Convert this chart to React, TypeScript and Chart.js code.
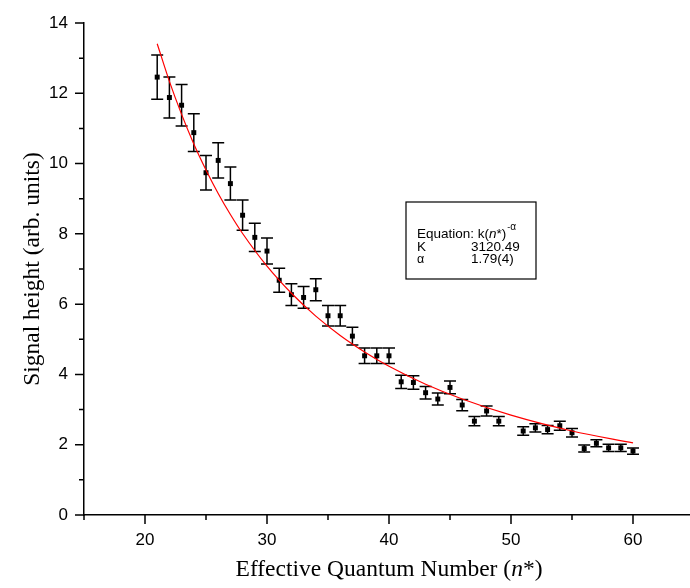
import React, { useEffect, useRef } from 'react';
import { Chart, registerables } from 'chart.js';

Chart.register(...registerables);

// ---- data ----
const nValues = [21, 22, 23, 24, 25, 26, 27, 28, 29, 30, 31, 32, 33, 34, 35, 36, 37, 38, 39, 40,
  41, 42, 43, 44, 45, 46, 47, 48, 49, 51, 52, 53, 54, 55, 56, 57, 58, 59, 60];
const signal = [12.46, 11.88, 11.66, 10.88, 9.74, 10.09, 9.43, 8.53, 7.90, 7.51, 6.68, 6.27, 6.19, 6.41,
  5.67, 5.67, 5.09, 4.53, 4.53, 4.53, 3.79, 3.77, 3.48, 3.30, 3.63, 3.13, 2.67, 2.96, 2.67,
  2.39, 2.48, 2.43, 2.54, 2.34, 1.89, 2.04, 1.91, 1.91, 1.82];
const errors = [0.63, 0.58, 0.59, 0.54, 0.49, 0.50, 0.47, 0.43, 0.40, 0.37, 0.34, 0.31, 0.31, 0.31,
  0.29, 0.29, 0.25, 0.22, 0.22, 0.22, 0.19, 0.19, 0.18, 0.17, 0.18, 0.16, 0.13, 0.14, 0.13,
  0.12, 0.12, 0.12, 0.13, 0.12, 0.10, 0.10, 0.10, 0.10, 0.09];
// fitted curve k(n*)^-alpha sampled values
const fitN = [21, 22, 23, 24, 25, 26, 27, 28, 30, 32, 34, 36, 38, 40, 43, 46, 50, 55, 60];
const fitY = [13.41, 12.34, 11.40, 10.56, 9.82, 9.15, 8.55, 8.01, 7.08, 6.31, 5.66, 5.11, 4.64, 4.23,
  3.72, 3.30, 2.84, 2.39, 2.05];
const xMajorTicks = [20, 30, 40, 50, 60];
const xMinorTicks = [15, 25, 35, 45, 55, 65];
const yMajorTicks = [0, 2, 4, 6, 8, 10, 12, 14];
const yMinorTicks = [1, 3, 5, 7, 9, 11, 13];
const xTitle = ['Effective Quantum Number (', 'n', '*)'];
const yTitle = 'Signal height (arb. units)';
const fitLabelK = '3120.49';
const fitLabelAlpha = '1.79(4)';

const SANS = '"Liberation Sans", Arial, sans-serif';
const SERIF = '"Liberation Serif", "Times New Roman", serif';

const decorPlugin = {
  id: 'decor',
  beforeDatasetsDraw(chart: any) {
    const { ctx } = chart;
    const xs = chart.scales.x;
    const ys = chart.scales.y;
    ctx.save();
    ctx.strokeStyle = '#000';
    ctx.lineWidth = 1.5;
    const cap = 6;
    nValues.forEach((n, i) => {
      const px = xs.getPixelForValue(n);
      const top = ys.getPixelForValue(signal[i] + errors[i]);
      const bot = ys.getPixelForValue(signal[i] - errors[i]);
      ctx.beginPath();
      ctx.moveTo(px, top);
      ctx.lineTo(px, bot);
      ctx.moveTo(px - cap, top);
      ctx.lineTo(px + cap, top);
      ctx.moveTo(px - cap, bot);
      ctx.lineTo(px + cap, bot);
      ctx.stroke();
    });
    ctx.restore();
  },
  afterDraw(chart: any) {
    const { ctx, chartArea } = chart;
    const xs = chart.scales.x;
    const ys = chart.scales.y;
    ctx.save();
    ctx.strokeStyle = '#000';
    ctx.lineWidth = 1.5;
    const axY = chartArea.bottom;
    const axX = chartArea.left;
    ctx.beginPath();
    xMajorTicks.forEach((v) => {
      const p = xs.getPixelForValue(v);
      ctx.moveTo(p, axY);
      ctx.lineTo(p, axY + 9);
    });
    xMinorTicks.forEach((v) => {
      const p = xs.getPixelForValue(v);
      ctx.moveTo(p, axY);
      ctx.lineTo(p, axY + 5);
    });
    yMajorTicks.forEach((v) => {
      const p = ys.getPixelForValue(v);
      ctx.moveTo(axX, p);
      ctx.lineTo(axX - 9, p);
    });
    yMinorTicks.forEach((v) => {
      const p = ys.getPixelForValue(v);
      ctx.moveTo(axX, p);
      ctx.lineTo(axX - 5, p);
    });
    ctx.stroke();

    // axis titles
    ctx.fillStyle = '#000';
    const tSize = 23.5;
    ctx.font = `${tSize}px ${SERIF}`;
    const w0 = ctx.measureText(xTitle[0]).width;
    ctx.font = `italic ${tSize}px ${SERIF}`;
    const w1 = ctx.measureText(xTitle[1]).width;
    ctx.font = `${tSize}px ${SERIF}`;
    const w2 = ctx.measureText(xTitle[2]).width;
    const cx = (chartArea.left + chartArea.right) / 2;
    let sx = cx - (w0 + w1 + w2) / 2;
    const ty = 576;
    ctx.textBaseline = 'alphabetic';
    ctx.textAlign = 'left';
    ctx.fillText(xTitle[0], sx, ty);
    sx += w0;
    ctx.font = `italic ${tSize}px ${SERIF}`;
    ctx.fillText(xTitle[1], sx, ty);
    sx += w1;
    ctx.font = `${tSize}px ${SERIF}`;
    ctx.fillText(xTitle[2], sx, ty);

    ctx.save();
    ctx.translate(39, (chartArea.top + chartArea.bottom) / 2);
    ctx.rotate(-Math.PI / 2);
    ctx.textAlign = 'center';
    ctx.fillText(yTitle, 0, 0);
    ctx.restore();

    // fit info box
    const bx = 406, by = 202, bw = 130, bh = 77;
    ctx.lineWidth = 1.2;
    ctx.strokeRect(bx, by, bw, bh);
    const fs = 13.5;
    const lx = 417;
    const vx = 471;
    ctx.textAlign = 'left';
    ctx.font = `${fs}px ${SANS}`;
    let ex = lx;
    const l1 = 238;
    ctx.fillText('Equation: k(', ex, l1);
    ex += ctx.measureText('Equation: k(').width;
    ctx.font = `italic ${fs}px ${SANS}`;
    ctx.fillText('n', ex, l1);
    ex += ctx.measureText('n').width;
    ctx.font = `${fs}px ${SANS}`;
    ctx.fillText('*)', ex, l1);
    ex += ctx.measureText('*)').width + 1;
    ctx.font = `9px ${SANS}`;
    ctx.fillText('-', ex, l1 - 8);
    ex += ctx.measureText('-').width;
    ctx.font = `10px ${SANS}`;
    ctx.fillText('α', ex, l1 - 8);
    ctx.font = `${fs}px ${SANS}`;
    ctx.fillText('K', lx, 251);
    ctx.fillText(fitLabelK, vx, 251);
    ctx.font = `${fs - 1}px ${SANS}`;
    ctx.fillText('α', lx, 263);
    ctx.font = `${fs}px ${SANS}`;
    ctx.fillText(fitLabelAlpha, vx, 263);
    ctx.restore();
  },
};

export default function App() {
  const canvasRef = useRef<HTMLCanvasElement | null>(null);

  useEffect(() => {
    const canvas = canvasRef.current;
    if (!canvas) return;
    const chart = new Chart(canvas, {
      type: 'scatter',
      data: {
        datasets: [
          {
            type: 'line',
            label: 'fit',
            data: fitN.map((n, i) => ({ x: n, y: fitY[i] })),
            borderColor: '#ff0000',
            borderWidth: 1.2,
            pointRadius: 0,
            fill: false,
            cubicInterpolationMode: 'monotone',
          } as any,
          {
            label: 'data',
            data: nValues.map((n, i) => ({ x: n, y: signal[i] })),
            pointStyle: 'rect',
            pointRadius: 3.5,
            backgroundColor: '#000',
            borderColor: '#000',
            borderWidth: 0,
          },
        ],
      },
      options: {
        animation: false,
        responsive: false,
        devicePixelRatio: 1,
        layout: { padding: { top: 23, right: 2, left: 0, bottom: 0 } },
        plugins: {
          legend: { display: false },
          tooltip: { enabled: false },
        },
        scales: {
          x: {
            type: 'linear',
            min: 15,
            max: 65,
            afterFit: (s: any) => { s.height = 73; },
            grid: { display: false, drawTicks: true, tickLength: 9 },
            border: { display: true, color: '#000', width: 1.5 },
            ticks: {
              stepSize: 5,
              autoSkip: false,
              maxRotation: 0,
              padding: 6,
              color: '#000',
              font: { family: SANS, size: 17 },
              callback: (v: any) => (Number(v) % 10 === 0 ? String(v) : ''),
            },
          },
          y: {
            type: 'linear',
            min: 0,
            max: 14,
            afterFit: (s: any) => { s.width = 84; },
            grid: { display: false, drawTicks: true, tickLength: 9 },
            border: { display: true, color: '#000', width: 1.5 },
            ticks: {
              stepSize: 1,
              autoSkip: false,
              padding: 7,
              color: '#000',
              font: { family: SANS, size: 17 },
              callback: (v: any) => (Number(v) % 2 === 0 ? String(v) : ''),
            },
          },
        },
      },
      plugins: [decorPlugin],
    });
    return () => chart.destroy();
  }, []);

  return (
    <div style={{ position: 'fixed', left: 0, top: 0, width: 690, height: 588, overflow: 'hidden', background: '#fff' }}>
      <canvas ref={canvasRef} width={700} height={588} style={{ display: 'block', width: 700, height: 588 }} />
    </div>
  );
}
